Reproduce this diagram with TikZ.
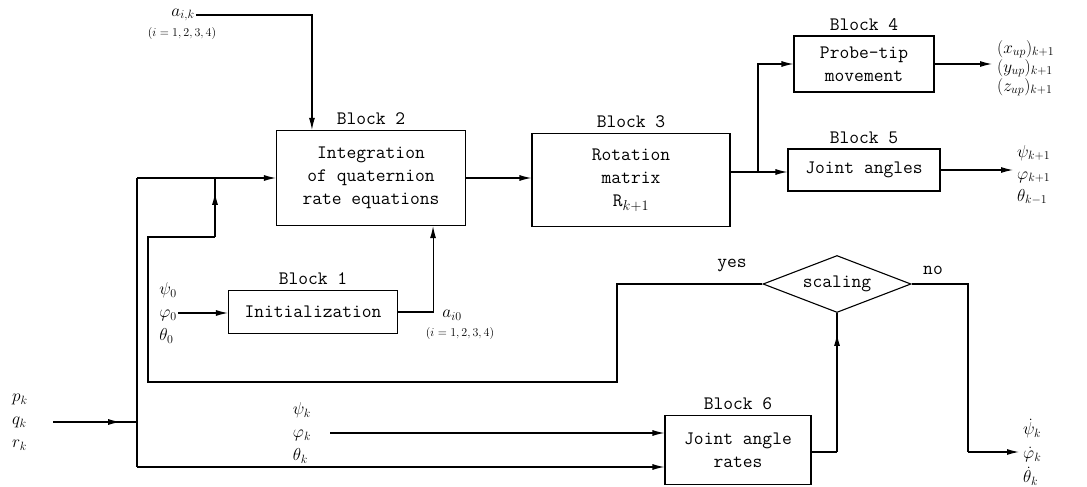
\documentclass[tikz,border=0pt]{standalone}
\usepackage{tikz}
\usetikzlibrary{arrows.meta, positioning, shapes.geometric, decorations.markings}

\begin{document}
\begin{tikzpicture}[x=1pt,y=-1pt,
  blk/.style={draw,line width=1.1pt,align=center,inner sep=2pt,
              font=\fontsize{19}{23}\selectfont\ttfamily},
  dia/.style={diamond,draw,line width=1.1pt,aspect=2.6,inner sep=1pt,
              minimum width=148pt,minimum height=57pt,
              font=\fontsize{19}{23}\selectfont\ttfamily},
  ttl/.style={font=\fontsize{19}{23}\selectfont\ttfamily,inner sep=1pt},
  sym/.style={font=\fontsize{17}{23}\selectfont,align=left,inner sep=1pt},
  idx/.style={font=\fontsize{13}{15}\selectfont,inner sep=1pt},
  ln/.style={line width=1.1pt},
  arr/.style={-{Latex[length=12pt,width=6pt]},line width=1.1pt},
  midarr/.style={line width=1.1pt,postaction={decorate},
    decoration={markings,mark=at position #1 with {\arrow{Latex[length=12pt,width=6pt]}}}}
]
\useasboundingbox (0,0) rectangle (1087,487);

\node[blk,minimum width=169pt,minimum height=43pt] (b1) at (313,312) {Initialization};
\node[blk,minimum width=189pt,minimum height=95pt] (b2) at (371,178) {Integration\\of quaternion\\rate equations};
\node[blk,minimum width=198pt,minimum height=93pt] (b3) at (631,180) {Rotation\\matrix\\R$_{k+1}$};
\node[blk,minimum width=140pt,minimum height=56pt] (b4) at (864,64) {Probe-tip\\movement};
\node[blk,minimum width=152pt,minimum height=42pt] (b5) at (864,170) {Joint angles};
\node[blk,minimum width=146pt,minimum height=69pt] (b6) at (738,450) {Joint angle\\rates};
\node[dia] (sc) at (837,284) {scaling};

\node[ttl,above=4pt of b1] (t1) {Block 1};
\node[ttl,above=4pt of b2] (t2) {Block 2};
\node[ttl,above=4pt of b3] (t3) {Block 3};
\node[ttl,above=4pt of b4] (t4) {Block 4};
\node[ttl,above=4pt of b5] (t5) {Block 5};
\node[ttl,above=4pt of b6] (t6) {Block 6};
\node[ttl] (yes) at (732,265) {yes};
\node[ttl] (no) at (933,270) {no};

\node[sym] (ik) at (183,15) {$a_{i,k}$};
\node[idx] (ikr) at (182,34) {$(i=1,2,3,4)$};
\node[sym] (i0) at (168,313) {$\psi_0$\\$\varphi_0$\\$\theta_0$};
\node[sym] (a0) at (452,315) {$a_{i0}$};
\node[idx] (a0r) at (460,333) {$(i=1,2,3,4)$};
\node[sym] (pqr) at (20,422) {$p_k$\\$q_k$\\$r_k$};
\node[sym] (psik) at (302,433) {$\psi_k$\\$\varphi_k$\\$\theta_k$};
\node[sym,anchor=west,font=\fontsize{17}{19}\selectfont] (xyz) at (996,68)
  {$(x_{up})_{k+1}$\\$(y_{up})_{k+1}$\\$(z_{up})_{k+1}$};
\node[sym,anchor=west,font=\fontsize{17}{22}\selectfont] (ang) at (1016,175)
  {$\psi_{k+1}$\\$\varphi_{k+1}$\\$\theta_{k-1}$};
\node[sym,anchor=west,font=\fontsize{17}{24}\selectfont] (rt) at (1022,452)
  {$\dot\psi_k$\\$\dot\varphi_k$\\$\dot\theta_k$};

\coordinate (pin) at (53,422);
\coordinate (lin) at (137,422);
\coordinate (ltop) at (137,178);
\coordinate (lbot) at (137,467);
\coordinate (y1) at (617,382);
\coordinate (y2) at (148,237);
\coordinate (y3) at (215,237);
\coordinate (br) at (758,172);
\coordinate (up) at (837,452);
\coordinate (nr) at (968,452);

\draw[midarr=0.8] (pin) -- (lin);
\draw[ln] (ltop) -- (lbot);
\draw[arr] (ltop) -- (ltop -| b2.west);
\draw[arr] (lbot) -- (lbot -| b6.west);
\draw[arr] (ik.east) -| ([xshift=36pt]b2.north west);
\draw[ln] (sc.west) -| (y1) -| (y2) -- (y3);
\draw[midarr=0.75] (y3) -- (y3 |- ltop);
\draw[arr] (i0.east) -- (i0.east -| b1.west);
\draw[arr] (b1.east) -| ([xshift=-33pt]b2.south east);
\draw[arr] (b2.east) -- (b2.east -| b3.west);
\draw[ln] (b3.east |- br) -- (br);
\draw[arr] (br) -- (br -| b5.west);
\draw[arr] (br) |- (b4.west);
\draw[arr,shorten >=4pt] (b4.east) -- (b4.east -| xyz.west);
\draw[arr,shorten >=3pt] (b5.east) -- (b5.east -| ang.west);
\draw[arr,shorten <=18pt] (psik.east) -- (psik.east -| b6.west);
\draw[ln] (b6.east |- up) -- (up);
\draw[midarr=0.85] (up) -- (sc.south);
\draw[ln] (sc.east) -| (nr);
\draw[arr,shorten >=3pt] (nr) -- (nr -| rt.west);
\end{tikzpicture}
\end{document}
